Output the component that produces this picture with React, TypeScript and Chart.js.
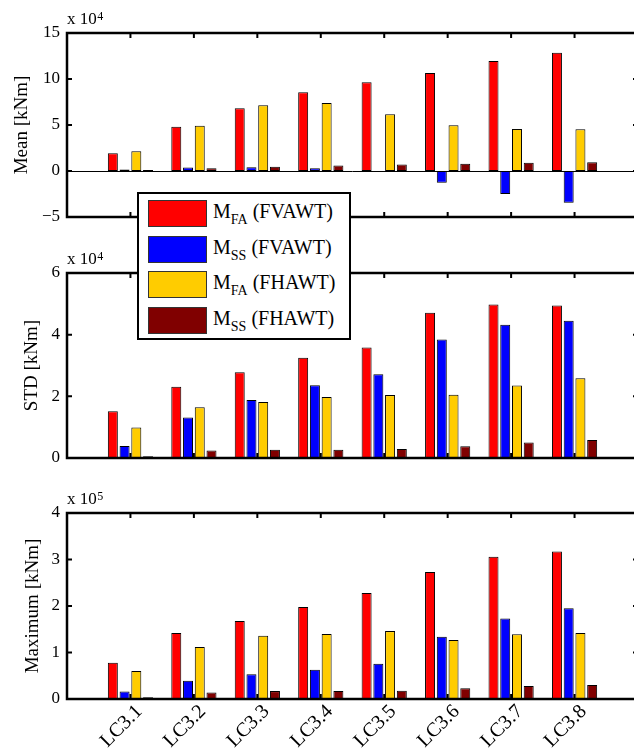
import React, { useEffect, useRef } from 'react';
import { Chart, registerables } from 'chart.js';

Chart.register(...registerables);

// ---------- data ----------
const categories = ['LC3.1', 'LC3.2', 'LC3.3', 'LC3.4', 'LC3.5', 'LC3.6', 'LC3.7', 'LC3.8'];

const seriesMain = ['M', 'M', 'M', 'M'];
const seriesSub = ['FA', 'SS', 'FA', 'SS'];
const seriesTail = [' (FVAWT)', ' (FVAWT)', ' (FHAWT)', ' (FHAWT)'];
const seriesColors = ['#ff0000', '#0000ff', '#ffcc00', '#800000'];

// Mean [kNm], x 10^4
const meanFA_FVAWT = [1.92, 4.82, 6.81, 8.55, 9.64, 10.65, 11.96, 12.86];
const meanSS_FVAWT = [0.15, 0.37, 0.4, 0.3, -0.05, -1.28, -2.5, -3.45];
const meanFA_FHAWT = [2.15, 4.93, 7.15, 7.4, 6.17, 4.97, 4.57, 4.55];
const meanSS_FHAWT = [0.1, 0.3, 0.45, 0.6, 0.7, 0.78, 0.9, 0.94];
const meanTicks = [-5, 0, 5, 10, 15];

// STD [kNm], x 10^4
const stdFA_FVAWT = [1.52, 2.31, 2.78, 3.25, 3.58, 4.71, 4.98, 4.95];
const stdSS_FVAWT = [0.39, 1.31, 1.88, 2.36, 2.72, 3.84, 4.32, 4.45];
const stdFA_FHAWT = [0.99, 1.65, 1.82, 1.98, 2.04, 2.05, 2.35, 2.59];
const stdSS_FHAWT = [0.06, 0.24, 0.27, 0.27, 0.29, 0.38, 0.5, 0.58];
const stdTicks = [0, 2, 4, 6];

// Maximum [kNm], x 10^5
const maxFA_FVAWT = [0.78, 1.42, 1.68, 1.98, 2.28, 2.73, 3.06, 3.17];
const maxSS_FVAWT = [0.16, 0.39, 0.53, 0.63, 0.76, 1.34, 1.73, 1.95];
const maxFA_FHAWT = [0.6, 1.12, 1.36, 1.4, 1.46, 1.27, 1.39, 1.42];
const maxSS_FHAWT = [0.04, 0.14, 0.17, 0.17, 0.18, 0.23, 0.28, 0.3];
const maxTicks = [0, 1, 2, 3, 4];

const FONT = '"Liberation Serif", "Times New Roman", serif';

type PanelProps = {
  canvasTop: number;
  height: number;
  padTop: number;
  padBottom: number;
  showX: boolean;
  xAxisHeight: number;
  series: number[][];
  ticks: number[];
  exponent: string;
  yTitle: string;
  titlePad: number;
};

const framePlugin = {
  id: 'matlabFrame',
  afterDraw(chart: any, _args: any, opts: any) {
    const { ctx, chartArea } = chart;
    const { left, right, top, bottom } = chartArea;
    const xs = chart.scales.x;
    const ys = chart.scales.y;
    ctx.save();
    ctx.strokeStyle = '#000';
    ctx.fillStyle = '#000';
    if (ys.min < 0) {
      const y0 = Math.round(ys.getPixelForValue(0)) + 0.5;
      ctx.lineWidth = 1;
      ctx.beginPath();
      ctx.moveTo(left, y0);
      ctx.lineTo(right, y0);
      ctx.stroke();
    }
    ctx.lineWidth = 2.5;
    ctx.strokeRect(left, top, right - left, bottom - top);
    ctx.lineWidth = 2;
    const tl = 5;
    ctx.beginPath();
    for (let i = 1; i <= categories.length; i++) {
      const x = xs.getPixelForValue(i);
      ctx.moveTo(x, top);
      ctx.lineTo(x, top + tl);
      ctx.moveTo(x, bottom);
      ctx.lineTo(x, bottom - tl);
    }
    for (const t of ys.ticks) {
      const y = ys.getPixelForValue(t.value);
      ctx.moveTo(left, y);
      ctx.lineTo(left + tl, y);
      ctx.moveTo(right, y);
      ctx.lineTo(right - tl, y);
    }
    ctx.stroke();
    ctx.textAlign = 'left';
    ctx.textBaseline = 'alphabetic';
    ctx.font = '17px ' + FONT;
    ctx.fillText('x 10', left, top - 9);
    const w = ctx.measureText('x 10').width;
    ctx.font = '12px ' + FONT;
    ctx.fillText(opts.exponent, left + w + 0.5, top - 13);
    ctx.restore();
  },
};

function Panel(p: PanelProps) {
  const ref = useRef<HTMLCanvasElement>(null);
  useEffect(() => {
    const labels = ['', ...categories, ''];
    const chart = new Chart(ref.current as HTMLCanvasElement, {
      type: 'bar',
      data: {
        labels,
        datasets: p.series.map((vals, i) => ({
          label: seriesMain[i] + seriesSub[i] + seriesTail[i],
          data: [null, ...vals, null],
          backgroundColor: seriesColors[i],
          borderColor: '#000',
          borderWidth: 1,
          borderSkipped: false,
          categoryPercentage: 0.74,
          barPercentage: 0.85,
        })),
      } as any,
      plugins: [framePlugin as any],
      options: {
        animation: false,
        responsive: false,
        maintainAspectRatio: false,
        devicePixelRatio: 1,
        layout: { padding: { top: p.padTop, bottom: p.padBottom, left: 0, right: 0 } },
        plugins: {
          legend: { display: false },
          tooltip: { enabled: false },
          matlabFrame: { exponent: p.exponent },
        } as any,
        scales: {
          x: {
            type: 'category',
            display: p.showX,
            offset: false,
            grid: { display: false, drawTicks: false },
            border: { display: false },
            ticks: {
              autoSkip: false,
              minRotation: 45,
              maxRotation: 45,
              padding: 1,
              labelOffset: 9,
              color: '#000',
              font: { family: FONT, size: 20 },
            },
            afterFit: (s: any) => {
              s.height = p.xAxisHeight;
              s.paddingLeft = 0;
              s.paddingRight = 0;
            },
          },
          y: {
            type: 'linear',
            min: p.ticks[0],
            max: p.ticks[p.ticks.length - 1],
            grid: { display: false, drawTicks: false },
            border: { display: false },
            afterBuildTicks: (s: any) => {
              s.ticks = p.ticks.map((v) => ({ value: v }));
            },
            ticks: {
              padding: 7,
              color: '#000',
              font: { family: FONT, size: 17 },
              callback: (v: any) => (Number(v) < 0 ? '\u2212' + Math.abs(Number(v)) : String(v)),
            },
            title: {
              display: true,
              text: p.yTitle,
              color: '#000',
              font: { family: FONT, size: 19, lineHeight: 1 },
              padding: { top: p.titlePad, bottom: 0 },
            },
            afterFit: (s: any) => {
              s.width = 67;
              s.paddingTop = 0;
              s.paddingBottom = 0;
            },
          },
        },
      } as any,
    });
    return () => chart.destroy();
  }, []);
  return (
    <canvas
      ref={ref}
      width={638}
      height={p.height}
      style={{ position: 'absolute', left: 0, top: p.canvasTop, width: 638, height: p.height }}
    />
  );
}

function Legend() {
  const boxLeft = 137;
  const boxTop = 192;
  return (
    <div
      style={{
        position: 'absolute',
        left: boxLeft,
        top: boxTop,
        width: 210,
        height: 144,
        border: '2px solid #000',
        background: '#fff',
        fontFamily: FONT,
      }}
    >
      {seriesColors.map((c, i) => (
        <React.Fragment key={i}>
          <div
            style={{
              position: 'absolute',
              left: 9,
              top: 6 + i * 35.5,
              width: 57,
              height: 25,
              background: c,
              border: '1px solid #333',
            }}
          />
          <div
            style={{
              position: 'absolute',
              left: 74,
              top: 6 + i * 35.5 + 1,
              fontSize: 20,
              lineHeight: '20px',
              whiteSpace: 'nowrap',
              color: '#000',
            }}
          >
            {seriesMain[i]}
            <span style={{ fontSize: 14, verticalAlign: '-6px' }}>{seriesSub[i]}</span>
            {seriesTail[i]}
          </div>
        </React.Fragment>
      ))}
    </div>
  );
}

export default function App() {
  return (
    <div
      style={{
        position: 'fixed',
        left: 0,
        top: 0,
        width: 634,
        height: 755,
        overflow: 'hidden',
        background: '#fff',
      }}
    >
      <Panel
        canvasTop={0}
        height={232}
        padTop={33}
        padBottom={15}
        showX={false}
        xAxisHeight={0}
        series={[meanFA_FVAWT, meanSS_FVAWT, meanFA_FHAWT, meanSS_FHAWT]}
        ticks={meanTicks}
        exponent="4"
        yTitle="Mean [kNm]"
        titlePad={13}
      />
      <Panel
        canvasTop={240}
        height={233}
        padTop={33}
        padBottom={15}
        showX={false}
        xAxisHeight={0}
        series={[stdFA_FVAWT, stdSS_FVAWT, stdFA_FHAWT, stdSS_FHAWT]}
        ticks={stdTicks}
        exponent="4"
        yTitle="STD [kNm]"
        titlePad={23}
      />
      <Panel
        canvasTop={480}
        height={275}
        padTop={33}
        padBottom={0}
        showX={true}
        xAxisHeight={56}
        series={[maxFA_FVAWT, maxSS_FVAWT, maxFA_FHAWT, maxSS_FHAWT]}
        ticks={maxTicks}
        exponent="5"
        yTitle="Maximum [kNm]"
        titlePad={24}
      />
      <Legend />
    </div>
  );
}
